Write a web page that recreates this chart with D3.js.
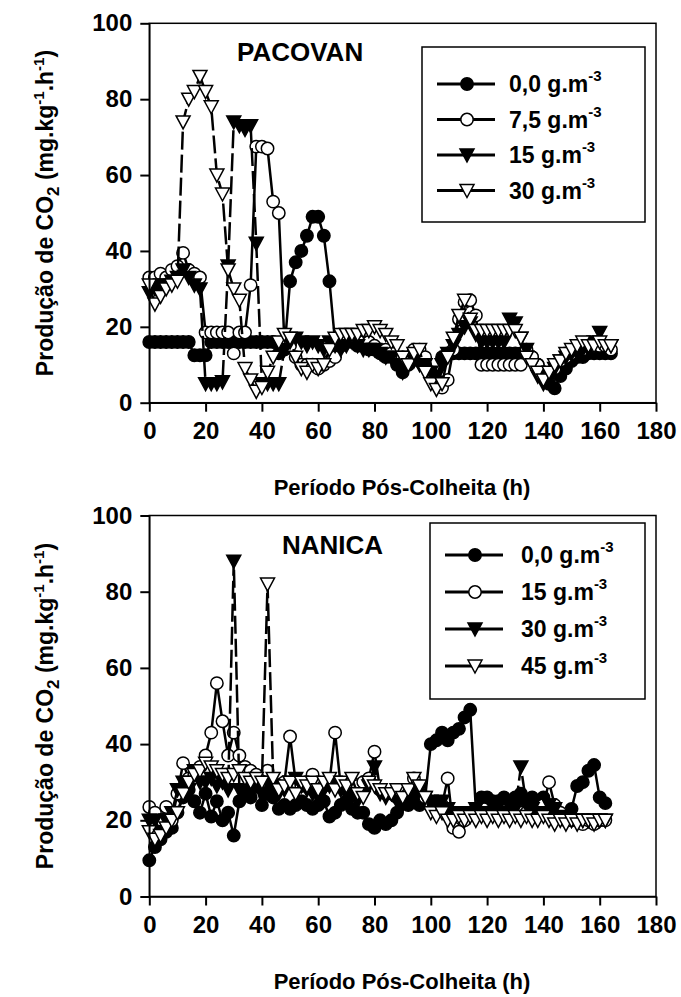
<!DOCTYPE html>
<html>
<head>
<meta charset="utf-8">
<script src="https://cdn.jsdelivr.net/npm/d3@7/dist/d3.min.js"></script>
<style>
  body { margin: 0; background: #fff; }
  svg { display: block; font-family: "Liberation Sans", Arial, sans-serif; font-weight: bold; }
</style>
</head>
<body>
<div id="chart"></div>
<script>
// ---- data ----
var xTicks = [0, 20, 40, 60, 80, 100, 120, 140, 160, 180];
var yTicks = [0, 20, 40, 60, 80, 100];

var hoursPacovan = d3.range(0, 165, 2);
var pac00 = [16,16,16,16,16,16,16,16,12.5,12.5,12.5,16,16,16,16,16,16,16,16,16,16,16,16,13,14,32,37,40,44,49,49,44,32,16,15,17,16,15,15,14,14,13,12,12,10,8,10,12,11,10,7,6,12,13,13,13,13,13,13,13,13,13,13,13,13,13,13,12,12,10,7,5,3.8,7,9,11,12,12,13,13,13,13,13];
var pac75 = [33,33,34,33,35,36,39.5,35,34,33,18.5,18.5,18.5,18.5,18.5,13,18.5,18.5,31,67.5,67.5,67,53,50,16,15,12,10,10,10,9,10,11,12,15,17,17,17,16,16,15,14,14,13,12,12,12,14,14,12,8,5,4,6,14,22,26.5,27,23,10,10,10,10,10,10,10,10,14,12,10,8,7,9,11,12,13,14,14,15,15,15,15,14];
var pac15 = [29,30,31,31,32,33,35,33,31,30,5,5,5,5.5,36,74,73,72,73,42,5,5,5,5,14,16,17,16,15,16,15,14,16,15,14,15,16,15,14,14,14,13,12,12,10,8,10,11,10,10,8,7,10,13,15,18,20,21,18,16,16,16,16,16,22,21,17,14,10,7,5,6,9,11,12,13,13,14,14,16,18.5,15,15];
var pac30 = [31,26,28,30,31,32,74,80,82,86,82,78,60,55,35,30,27,9,6,3,4,8,12,16,18,17,12,9,8,10,9,10,14,17,18,18,18,18,19,19,20,19,18,16,15,12,10,13,14,8,5,3.5,5,12,17,23,27,22,19,19,19,19,19,19,19,19,17,12,10,8,6,8,10,11,13,14,15,16,15,15,16,15,15];

var hoursNanica = d3.range(0, 163, 2);
var nan00 = [9.5,13,15,17,18,22,26,28,25,22,27,21,25,20,22,16,25,28,26,29,24,27,26,23,24,23,24,25,24,23,24,25,21,22,24,25,23,22,22,19,18,20,19,20,22,25,24,26,24,26,40,41,43,41,43,44,47,49,23,26,26,25,25,26,25,26,27,25,26,25,26,24,22,21,20,23,29,30,33,34.5,26,24.5];
var nan15 = [23.5,22,20,23.5,20,27,35,31,32,34,37,43,56,46,37,43,37,34,33,32,31,33,30,29,30,42,30,29,30,32,28,29,30,43,29,28,30,29,30,31,38,28,27,27,26,25,27,31,29,26,24,23,24,31,18,17,20,22,22,22,22,22,22,22,22,22,22,22,22,22,24,30,24,22,20,20,20,19,20,19,20,20];
var nan30 = [20,20,17,20,22,28,30,28,33,30,30,31,29,30,28,88,28,27,28,29,27,30,29,27,28,30,31,29,28,27,26,28,29,30,28,27,26,25,27,29,34,27,26,27,25,24,25,27,28,26,25,24,25,23,22,22,22,22,23,22,22,22,22,22,22,23,34,24,23,22,22,24,23,21,20,20,20,20,20,20,20,20];
var nan45 = [17,15,16,18,20,22,27,30,32,33,35,34,33,32,31,32,33,31,30,31,30,82,31,28,29,30,27,30,29,30,28,30,31,28,30,29,31,27,26,30,29,28,27,27,28,26,28,31,29,26,22,21,22,20,20,21,20,21,20,21,20,21,20,21,20,21,20,21,20,20,21,20,19,20,19,20,19,20,20,19,20,20];

var pacLabels = ["0,0", "7,5", "15", "30"];
var nanLabels = ["0,0", "15", "30", "45"];

// ---- drawing ----
var svg = d3.select("#chart").append("svg")
  .attr("width", 681)
  .attr("height", 997);

var styles = [
  { marker: "circle", fill: "#000", dash: null },
  { marker: "circle", fill: "#fff", dash: null },
  { marker: "tri", fill: "#000", dash: "18,5" },
  { marker: "tri", fill: "#fff", dash: "18,5" }
];

function drawMarker(g, kind, fill, x, y) {
  if (kind === "circle") {
    g.append("circle").attr("cx", x).attr("cy", y).attr("r", 6.2)
      .attr("fill", fill).attr("stroke", "#000").attr("stroke-width", 1.5);
  } else {
    g.append("path").attr("d", "M-7,-6L7,-6L0,7Z")
      .attr("transform", `translate(${x},${y})`)
      .attr("fill", fill).attr("stroke", "#000").attr("stroke-width", 1.5);
  }
}

function panel(opt) {
  var x = d3.scaleLinear().domain([0, 180]).range([149.3, 656]);
  var y = d3.scaleLinear().domain([0, 100]).range([opt.bottom, opt.top]);
  var g = svg.append("g");

  // series lines + markers
  opt.series.forEach(function(vals, i) {
    var st = styles[i];
    var pts = opt.hours.map((h, k) => [h, vals[k]]);
    g.append("path")
      .datum(pts)
      .attr("fill", "none")
      .attr("stroke", "#000")
      .attr("stroke-width", 2.5)
      .attr("stroke-dasharray", st.dash)
      .attr("d", d3.line().x(d => x(d[0])).y(d => y(d[1])));
    var mg = g.append("g");
    pts.forEach(function(d) { drawMarker(mg, st.marker, st.fill, x(d[0]), y(d[1])); });
  });

  // frame
  g.append("rect")
    .attr("x", 149.3).attr("y", opt.top)
    .attr("width", 656 - 149.3).attr("height", opt.bottom - opt.top)
    .attr("fill", "none").attr("stroke", "#000").attr("stroke-width", 1.5);

  var xAxis = g.append("g")
    .attr("transform", `translate(0,${opt.bottom})`)
    .call(d3.axisBottom(x).tickValues(xTicks).tickSize(9).tickSizeOuter(0).tickPadding(10));
  var yAxis = g.append("g")
    .attr("transform", "translate(149.3,0)")
    .call(d3.axisLeft(y).tickValues(yTicks).tickSize(9).tickSizeOuter(0).tickPadding(8));
  [xAxis, yAxis].forEach(function(a) {
    a.selectAll(".domain").attr("stroke-width", 1.5);
    a.selectAll(".tick line").attr("stroke-width", 2);
    a.selectAll(".tick text")
      .attr("font-size", 24)
      .attr("font-family", "Liberation Sans, Arial, sans-serif")
      .attr("font-weight", "bold");
  });

  // panel title
  g.append("text")
    .attr("x", opt.titleX).attr("y", opt.top + 38)
    .attr("font-size", 26)
    .text(opt.title);

  // axis titles
  g.append("text")
    .attr("x", 402).attr("y", opt.bottom + 92)
    .attr("text-anchor", "middle")
    .attr("font-size", 22)
    .text("Período Pós-Colheita (h)");

  var yt = g.append("text")
    .attr("transform", `translate(53,${(opt.top + opt.bottom) / 2}) rotate(-90)`)
    .attr("text-anchor", "middle")
    .attr("font-size", 23);
  yt.append("tspan").text("Produção de CO");
  yt.append("tspan").attr("dy", 6).attr("font-size", 17).text("2");
  yt.append("tspan").attr("dy", -6).text(" (mg.kg");
  yt.append("tspan").attr("dy", -9).attr("font-size", 15).text("-1");
  yt.append("tspan").attr("dy", 9).text(".h");
  yt.append("tspan").attr("dy", -9).attr("font-size", 15).text("-1");
  yt.append("tspan").attr("dy", 9).text(")");

  // legend
  var lg = g.append("g");
  lg.append("rect")
    .attr("x", opt.legend.x).attr("y", opt.legend.y)
    .attr("width", opt.legend.w).attr("height", opt.legend.h)
    .attr("fill", "#fff").attr("stroke", "#000").attr("stroke-width", 1.5);
  opt.labels.forEach(function(lab, i) {
    var cy = opt.legend.y + opt.legend.row0 + i * opt.legend.dy;
    var lx = opt.legend.x + opt.legend.pad;
    lg.append("line")
      .attr("x1", lx).attr("x2", lx + 58)
      .attr("y1", cy).attr("y2", cy)
      .attr("stroke", "#000").attr("stroke-width", 3);
    drawMarker(lg, styles[i].marker, styles[i].fill, lx + 30, cy);
    var t = lg.append("text")
      .attr("x", lx + opt.legend.tx).attr("y", cy + 8)
      .attr("font-size", 23);
    t.append("tspan").text(lab + " g.m");
    t.append("tspan").attr("dy", -11).attr("font-size", 15).text("-3");
  });
}

panel({
  top: 23.3, bottom: 402.7,
  hours: hoursPacovan,
  series: [pac00, pac75, pac15, pac30],
  title: "PACOVAN", titleX: 237,
  labels: pacLabels,
  legend: { x: 422, y: 47, w: 223, h: 175, row0: 37, dy: 35.5, pad: 15, tx: 72 }
});

panel({
  top: 515.5, bottom: 896.5,
  hours: hoursNanica,
  series: [nan00, nan15, nan30, nan45],
  title: "NANICA", titleX: 282,
  labels: nanLabels,
  legend: { x: 430, y: 523, w: 215, h: 176, row0: 32, dy: 37, pad: 15, tx: 76 }
});
</script>
</body>
</html>
